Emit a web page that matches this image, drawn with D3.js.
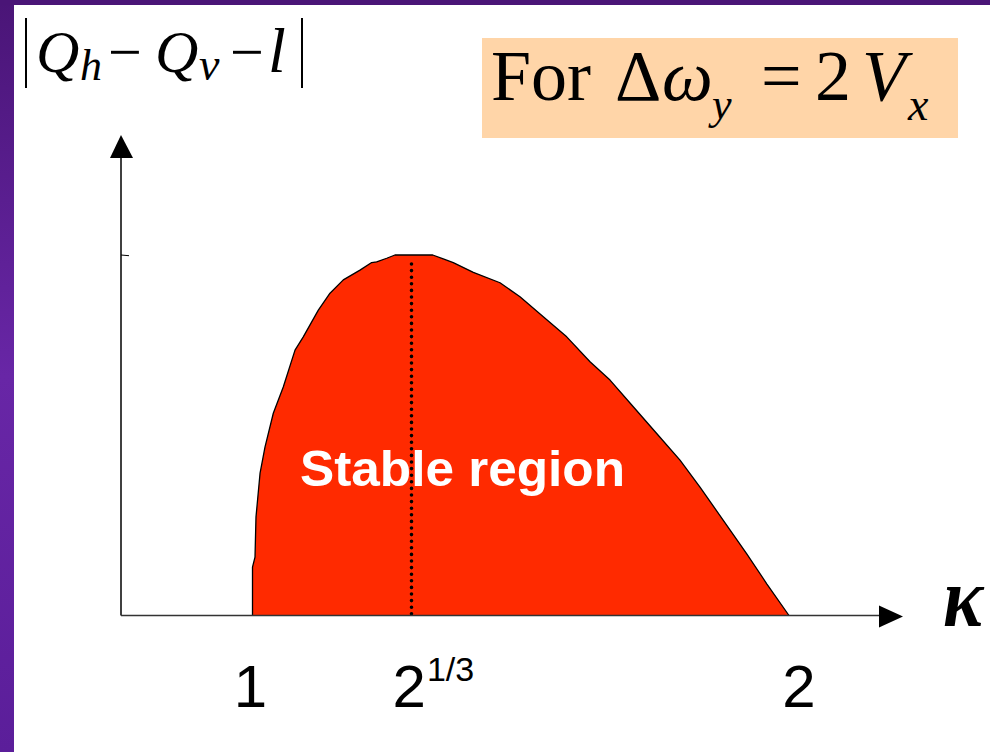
<!DOCTYPE html>
<html>
<head>
<meta charset="utf-8">
<script src="https://cdn.jsdelivr.net/npm/d3@7"></script>
<style>
  html, body { margin: 0; padding: 0; background: #ffffff; }
  svg { display: block; }
</style>
</head>
<body>
<svg id="chart" width="990" height="752"></svg>
<script>
// Boundary of the stable region: kappa vs |Q_h - Q_v - l| (normalised to the peak)
const kappa = [1.000, 1.000, 1.0041, 1.0057, 1.0123, 1.0204, 1.0340, 1.0503, 1.0695, 1.0830,
               1.1076, 1.1267, 1.1484, 1.1757, 1.1948, 1.2030, 1.2194, 1.2329, 1.3015, 1.3222,
               1.3418, 1.3811, 1.4334, 1.4726, 1.5183, 1.5642, 1.6099, 1.6491, 1.6947, 1.7406,
               1.7863, 1.8255, 1.8712, 1.9172, 1.9564, 2.000];
const gap   = [0.000, 0.134, 0.162, 0.273, 0.394, 0.467, 0.561, 0.634, 0.736, 0.773,
               0.847, 0.894, 0.931, 0.958, 0.979, 0.981, 0.991, 1.000, 1.000, 0.989,
               0.979, 0.952, 0.923, 0.884, 0.829, 0.773, 0.704, 0.653, 0.579, 0.505,
               0.431, 0.356, 0.264, 0.171, 0.088, 0.000];

// x-axis ticks: 1, 2^(1/3), 2
const tickValues = [1, 1.2599, 2];
const tickBase   = ["1", "2", "2"];
const tickSup    = ["", "1/3", ""];
const peakMarker = 1.2599;   // dotted line at kappa = 2^(1/3)
const regionLabel = "Stable region";

const svg = d3.select("#chart");
const W = 990, H = 752;

// Slide frame: purple bar along the top and left edge
const defs = svg.append("defs");
const grad = defs.append("linearGradient").attr("id", "sideBar")
  .attr("x1", 0).attr("y1", 0).attr("x2", 0).attr("y2", 1);
grad.append("stop").attr("offset", "0%").attr("stop-color", "#4a1577");
grad.append("stop").attr("offset", "50%").attr("stop-color", "#6826a6");
grad.append("stop").attr("offset", "100%").attr("stop-color", "#5b1e9a");

svg.append("rect").attr("x", 0).attr("y", 0).attr("width", W).attr("height", H).attr("fill", "#ffffff");
svg.append("rect").attr("x", 0).attr("y", 0).attr("width", 14).attr("height", H).attr("fill", "url(#sideBar)");
svg.append("rect").attr("x", 0).attr("y", 0).attr("width", W).attr("height", 5).attr("fill", "#4a1577");

// Scales (schematic, piecewise-linear kappa axis)
const x = d3.scaleLinear().domain([1, 1.2599, 2]).range([252.5, 411.5, 789]);
const y = d3.scaleLinear().domain([0, 1]).range([615.5, 255]);

const axisX0 = 121, axisY0 = 615.5;

// Stable region fill
const pts = kappa.map((k, i) => [k, gap[i]]);
const area = d3.area().x(d => x(d[0])).y0(y(0)).y1(d => y(d[1]));
const line = d3.line().x(d => x(d[0])).y(d => y(d[1]));

svg.append("path").datum(pts).attr("d", area).attr("fill", "#ff2a00");
svg.append("path").datum(pts).attr("d", line)
  .attr("fill", "none").attr("stroke", "#000").attr("stroke-width", 1.3).attr("stroke-linejoin", "round");

// Region label
svg.append("text").attr("x", 300).attr("y", 486)
  .attr("font-family", "'Liberation Sans', Arial, sans-serif").attr("font-weight", "bold")
  .attr("font-size", 50).attr("fill", "#ffffff")
  .attr("textLength", 325).attr("lengthAdjust", "spacingAndGlyphs")
  .text(regionLabel);

// Dotted marker at the peak
svg.append("line")
  .attr("x1", x(peakMarker)).attr("x2", x(peakMarker))
  .attr("y1", y(0.975)).attr("y2", y(0))
  .attr("stroke", "#000").attr("stroke-width", 3.6)
  .attr("stroke-linecap", "round").attr("stroke-dasharray", "0 6.6");

// Axes
svg.append("line").attr("x1", axisX0).attr("x2", axisX0).attr("y1", 158).attr("y2", axisY0)
  .attr("stroke", "#000").attr("stroke-width", 1.5);
svg.append("line").attr("x1", axisX0).attr("x2", 880).attr("y1", axisY0).attr("y2", axisY0)
  .attr("stroke", "#333").attr("stroke-width", 1.6);
svg.append("path").attr("d", `M${axisX0},135 L${axisX0 - 11},158 L${axisX0 + 12},158 Z`).attr("fill", "#000");
svg.append("path").attr("d", `M903,${axisY0 + 1} L879,${axisY0 - 10} L879,${axisY0 + 12} Z`).attr("fill", "#000");

// small tick at the peak level on the vertical axis
svg.append("line").attr("x1", axisX0).attr("x2", axisX0 + 8).attr("y1", y(1)).attr("y2", y(1) + 0.7)
  .attr("stroke", "#000").attr("stroke-width", 1);

// x tick labels
const tickNudge = [-2, -3, 10];
const sans = "'Liberation Sans', Arial, sans-serif";
tickValues.forEach((v, i) => {
  const t = svg.append("text").attr("x", x(v) + tickNudge[i]).attr("y", 707)
    .attr("font-family", sans).attr("font-size", 60).attr("fill", "#000")
    .attr("text-anchor", tickSup[i] ? "start" : "middle");
  if (tickSup[i]) {
    t.attr("x", x(v) + tickNudge[i] - 16);
    t.append("tspan").text(tickBase[i]);
    t.append("tspan").attr("font-size", 34).attr("dy", -26).attr("dx", 1).text(tickSup[i]);
  } else {
    t.text(tickBase[i]);
  }
});

// kappa axis title
svg.append("text").attr("x", 943).attr("y", 626)
  .attr("font-family", "'Liberation Serif', 'Times New Roman', serif")
  .attr("font-style", "italic").attr("font-weight", "bold").attr("font-size", 84)
  .attr("textLength", 40).attr("lengthAdjust", "spacingAndGlyphs")
  .attr("fill", "#000").text("κ");

// Vertical axis title: |Q_h - Q_v - l|
const serif = "'Liberation Serif', 'Times New Roman', serif";
const yt = svg.append("g");
yt.append("line").attr("x1", 26).attr("x2", 26).attr("y1", 18).attr("y2", 88).attr("stroke", "#000").attr("stroke-width", 2);
yt.append("line").attr("x1", 302).attr("x2", 302).attr("y1", 18).attr("y2", 88).attr("stroke", "#000").attr("stroke-width", 2);
const yPieces = [
  { t: "Q", x: 36,  y: 72, s: 60, i: true },
  { t: "h", x: 80,  y: 80, s: 44, i: true },
  { t: "−", x: 108, y: 72, s: 60, i: false },
  { t: "Q", x: 155, y: 72, s: 60, i: true },
  { t: "v", x: 199, y: 80, s: 46, i: true },
  { t: "−", x: 230, y: 72, s: 60, i: false },
  { t: "l", x: 268, y: 72, s: 64, i: true }
];
yPieces.forEach(p => {
  yt.append("text").attr("x", p.x).attr("y", p.y).attr("font-family", serif)
    .attr("font-style", p.i ? "italic" : "normal").attr("font-size", p.s).attr("fill", "#000").text(p.t);
});

// Condition box: For Δω_y = 2 V_x
svg.append("rect").attr("x", 482).attr("y", 38).attr("width", 476).attr("height", 100).attr("fill", "#ffd5a8");
const boxPieces = [
  { t: "For", x: 491, y: 100, s: 72, i: false },
  { t: "Δ",   x: 615, y: 100, s: 72, i: false },
  { t: "ω",   x: 662, y: 100, s: 72, i: true },
  { t: "y",   x: 712, y: 119, s: 44, i: true },
  { t: "=",   x: 761, y: 100, s: 72, i: false },
  { t: "2",   x: 815, y: 100, s: 72, i: false },
  { t: "V",   x: 862, y: 100, s: 72, i: true },
  { t: "x",   x: 908, y: 120, s: 46, i: true }
];
boxPieces.forEach(p => {
  svg.append("text").attr("x", p.x).attr("y", p.y).attr("font-family", serif)
    .attr("font-style", p.i ? "italic" : "normal").attr("font-size", p.s).attr("fill", "#000").text(p.t);
});
</script>
</body>
</html>
